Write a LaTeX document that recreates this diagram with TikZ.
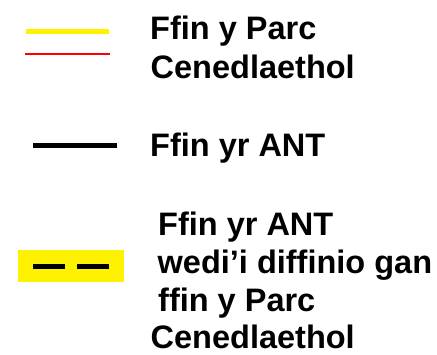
\documentclass[tikz,border=0pt]{standalone}
\usepackage{fontspec}
\setmainfont{Liberation Sans}
\begin{document}
\begin{tikzpicture}[x=1pt,y=-1pt,
  lbl/.style={anchor=base west,inner sep=0pt,font=\fontsize{32.5}{38}\selectfont\bfseries},
  sym/.style={line cap=butt}]
\useasboundingbox (0,0) rectangle (437,354);
% legend symbols
\draw[sym,yellow,line width=4.5pt] (26,31.7) -- (109,31.7);
\draw[sym,red,line width=1.5pt] (25,53.8) -- (110,53.8);
\draw[sym,black,line width=5pt] (33,145.3) -- (117,145.3);
\fill[yellow] (18,250.3) rectangle (124,281.7);
\draw[sym,black,line width=5pt] (33,266) -- (65,266);
\draw[sym,black,line width=5pt] (77,266) -- (109,266);
% labels
\node[lbl] (t1) at (150,39.3) {Ffin y Parc};
\node[lbl] (t2) at (150.5,78.6) {Cenedlaethol};
\node[lbl] (t3) at (150,156) {Ffin yr ANT};
\node[lbl] (t4) at (158,235) {Ffin yr ANT};
\node[lbl] (t5) at (157.5,273.5) {wedi’i diffinio gan};
\node[lbl] (t6) at (158,311.5) {ffin y Parc};
\node[lbl] (t7) at (150.5,348.3) {Cenedlaethol};
\end{tikzpicture}
\end{document}
